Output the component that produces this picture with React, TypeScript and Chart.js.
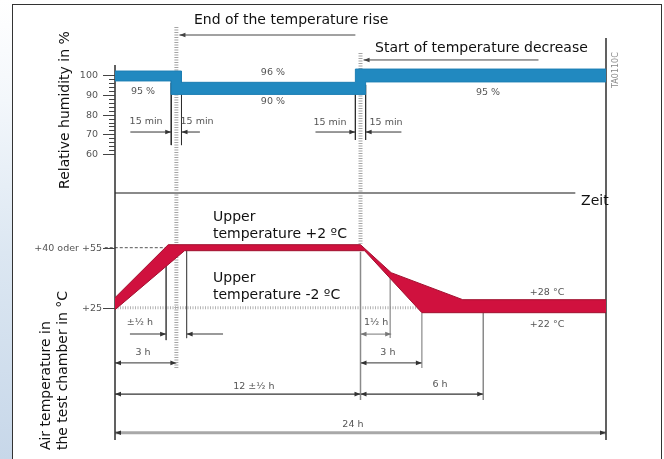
import React, { useEffect, useRef } from 'react';
import { Chart, registerables } from 'chart.js';

Chart.register(...registerables);

// ---------------- data ----------------
// time axis (hours)
const timeMin = 0;
const timeMax = 24;

// relative humidity band (%), stepped edges
const humUpperX = [0, 3.25, 3.25, 11.75, 11.75, 24];
const humUpperY = [102, 102, 96.3, 96.3, 103, 103];
const humLowerX = [0, 2.75, 2.75, 12.25, 12.25, 24];
const humLowerY = [97, 97, 90.2, 90.2, 96.5, 96.5];
const humTicks = [60, 70, 80, 90, 100];
const humMinorTicks = [62, 64, 66, 68, 72, 74, 76, 78, 82, 84, 86, 88, 92, 94, 96, 98];

// air temperature band (°C)
const tempUpperX = [0, 2.6, 12, 13.5, 17, 24];
const tempUpperY = [27.5, 40.75, 40.75, 33.75, 27, 27];
const tempLowerX = [0, 3.4, 12.2, 15, 24];
const tempLowerY = [24.5, 39.25, 39.25, 23.75, 23.75];
const tempTicks = [40, 25];
const tempTickLabels = ['+40 oder +55', '+25'];

// time spans (hours) shown as dimension arrows
const spanRise = [0, 3];
const spanPlateau = [0, 12];
const spanFall = [12, 15];
const spanSettle = [12, 18];
const spanTotal = [0, 24];
const spanKink = [12, 13.5];
const spanTolLeft = [0.73, 2.5];
const spanTolRight = [3.5, 5.28];
const pointerRiseEnd = [3.15, 11.75];
const pointerFallStart = [12.15, 20.7];
const min15A = [0.75, 2.75];
const min15B = [3.25, 4.15];
const min15C = [9.8, 11.75];
const min15D = [12.25, 14.0];

// labels
const spanLabels = ['±½ h', '3 h', '3 h', '12 ±½ h', '6 h', '24 h', '1½ h'];
const humValueLabels = ['95 %', '96 %', '90 %', '95 %'];
const tempValueLabels = ['+28 °C', '+22 °C'];
const min15Label = '15 min';

// ---------------- layout (positions in axis units) ----------------
const Y_H = { min: -93.94, max: 137.88 };
const Y_T = { min: -12.825, max: 101.925 };
const ROW = {
  riseEnd: 120.2, // yH
  fallStart: 107.6, // yH
  min15: 71.2, // yH
  zeit: 53.7, // yT
  tol: 18.4, // yT
  three: 11.2, // yT
  twelve: 3.4, // yT
  total: -6.25, // yT
  bottom: -8.1, // yT
};

const DARK = '#2e2e2e';
const GREY = '#8a8a8a';
const LADDER = '#a4a4a4';

function line(xs: number[], ys: number[], axis: string, color: string, width: number, extra: any = {}) {
  return {
    type: 'line',
    data: xs.map((x, i) => ({ x, y: ys[i] })),
    yAxisID: axis,
    borderColor: color,
    backgroundColor: color,
    borderWidth: width,
    pointRadius: 0,
    tension: 0,
    fill: false,
    clip: false,
    ...extra,
  };
}
function hline(span: number[], y: number, axis: string, color: string, width: number, extra: any = {}) {
  return line(span, [y, y], axis, color, width, extra);
}
function vline(x: number, ys: number[], axis: string, color: string, width: number, extra: any = {}) {
  return line([x, x], ys, axis, color, width, extra);
}

const datasets: any[] = [
  // humidity band
  line(humUpperX, humUpperY, 'yH', '#1d7fb4', 1),
  line(humLowerX, humLowerY, 'yH', '#1d7fb4', 1, { fill: '-1', backgroundColor: '#2189c0' }),
  // temperature band
  line(tempUpperX, tempUpperY, 'yT', '#a1102f', 1),
  line(tempLowerX, tempLowerY, 'yT', '#a1102f', 1, { fill: '-1', backgroundColor: '#d0113e' }),

  // axes / frame lines
  vline(timeMin, [85.7, ROW.bottom], 'yT', DARK, 1.5),
  vline(timeMax, [92.4, ROW.bottom], 'yT', DARK, 1.5),
  hline([0, 22.5], ROW.zeit, 'yT', GREY, 2),

  // event lines
  vline(3, [95.2, 9.9], 'yT', LADDER, 4, { borderDash: [1, 1.5] }),
  vline(12, [88.7, 41], 'yT', LADDER, 4, { borderDash: [1, 1.5] }),
  vline(12, [39, 1.9], 'yT', GREY, 1.5),
  vline(2.75, [96, 64.6], 'yH', DARK, 1),
  vline(3.25, [101, 64.6], 'yH', DARK, 1),
  vline(11.75, [95, 67.2], 'yH', DARK, 1),
  vline(12.25, [95, 67.2], 'yH', DARK, 1),
  vline(2.5, [36, 16.9], 'yT', '#555', 1),
  vline(3.5, [39.25, 17.4], 'yT', '#555', 1),
  vline(13.45, [33.75, 17.4], 'yT', GREY, 1.2),
  vline(15, [23.75, 9.9], 'yT', GREY, 1.2),
  vline(18, [23.75, 1.9], 'yT', GREY, 1.5),

  // level lines
  hline([-0.5, 2.55], 40, 'yT', '#555', 1, { borderDash: [3, 2] }),
  hline([0, 15], 25, 'yT', '#b4b4b4', 3, { borderDash: [1, 1.5] }),

  // pointers
  hline(pointerRiseEnd, ROW.riseEnd, 'yH', '#444', 1, { heads: [[0, -1]] }),
  hline(pointerFallStart, ROW.fallStart, 'yH', '#444', 1, { heads: [[0, -1]] }),
  hline(min15A, ROW.min15, 'yH', '#333', 1, { heads: [[1, 1]] }),
  hline(min15B, ROW.min15, 'yH', '#333', 1, { heads: [[0, -1]] }),
  hline(min15C, ROW.min15, 'yH', '#333', 1, { heads: [[1, 1]] }),
  hline(min15D, ROW.min15, 'yH', '#333', 1, { heads: [[0, -1]] }),

  // dimension arrows
  hline(spanTolLeft, ROW.tol, 'yT', '#9a9a9a', 2, { heads: [[1, 1]], headColor: '#333' }),
  hline(spanTolRight, ROW.tol, 'yT', '#9a9a9a', 2, { heads: [[0, -1]], headColor: '#333' }),
  hline(spanKink, ROW.tol, 'yT', '#777', 1, { heads: [[0, -1], [1, 1]] }),
  hline(spanRise, ROW.three, 'yT', '#333', 1, { heads: [[0, -1], [1, 1]] }),
  hline(spanFall, ROW.three, 'yT', '#333', 1, { heads: [[0, -1], [1, 1]] }),
  hline(spanPlateau, ROW.twelve, 'yT', '#333', 1.2, { heads: [[0, -1], [1, 1]] }),
  hline(spanSettle, ROW.twelve, 'yT', '#333', 1.2, { heads: [[0, -1], [1, 1]] }),
  hline(spanTotal, ROW.total, 'yT', '#a8a8a8', 3, { heads: [[0, -1], [1, 1]], headColor: '#333' }),
];

const FONT_BIG = '14px "DejaVu Sans"';
const FONT_SMALL = '9.5px "DejaVu Sans"';

// texts: [text, x(h), y, axis]
const bigTexts: any[] = [
  ['End of the temperature rise', 3.86, 125.8, 'yH'],
  ['Start of temperature decrease', 12.71, 111.5, 'yH'],
  ['Zeit', 22.78, 50.7, 'yT'],
  ['Upper', 4.79, 46.8, 'yT'],
  ['temperature +2 ºC', 4.79, 42.55, 'yT'],
  ['Upper', 4.79, 31.4, 'yT'],
  ['temperature -2 ºC', 4.79, 27.1, 'yT'],
];
const smallTexts: any[] = [
  [humValueLabels[0], 1.37, 91.4, 'yH'],
  [humValueLabels[1], 7.72, 101.5, 'yH'],
  [humValueLabels[2], 7.72, 86.4, 'yH'],
  [humValueLabels[3], 18.23, 90.9, 'yH'],
  [min15Label, 1.52, 76.3, 'yH'],
  [min15Label, 4.01, 76.3, 'yH'],
  [min15Label, 10.51, 75.8, 'yH'],
  [min15Label, 13.25, 75.8, 'yH'],
  [spanLabels[0], 1.22, 21.2, 'yT'],
  [spanLabels[1], 1.37, 13.7, 'yT'],
  [spanLabels[2], 13.34, 13.9, 'yT'],
  [spanLabels[3], 6.79, 5.4, 'yT'],
  [spanLabels[4], 15.89, 5.7, 'yT'],
  [spanLabels[5], 11.63, -4.1, 'yT'],
  [spanLabels[6], 12.76, 21.4, 'yT'],
  [tempValueLabels[0], 21.12, 28.9, 'yT'],
  [tempValueLabels[1], 21.12, 20.9, 'yT'],
];

const diagramPlugin = {
  id: 'diagram',
  afterDatasetsDraw(chart: any) {
    const { ctx, scales } = chart;
    const px = (h: number) => scales.x.getPixelForValue(h);
    const py = (axis: string, v: number) => scales[axis].getPixelForValue(v);
    ctx.save();

    // arrowheads
    chart.data.datasets.forEach((ds: any, i: number) => {
      if (!ds.heads) return;
      const meta = chart.getDatasetMeta(i);
      ds.heads.forEach(([idx, dir]: [number, number]) => {
        const p = meta.data[idx];
        ctx.beginPath();
        ctx.moveTo(p.x, p.y);
        ctx.lineTo(p.x - dir * 6, p.y - 2.3);
        ctx.lineTo(p.x - dir * 6, p.y + 2.3);
        ctx.closePath();
        ctx.fillStyle = ds.headColor || ds.borderColor;
        ctx.fill();
      });
    });

    const x0 = px(timeMin);
    // humidity ticks
    ctx.strokeStyle = '#444';
    ctx.lineWidth = 1;
    humMinorTicks.forEach((v) => {
      const y = Math.round(py('yH', v)) + 0.5;
      ctx.beginPath();
      ctx.moveTo(x0 - 6, y);
      ctx.lineTo(x0, y);
      ctx.stroke();
    });
    ctx.font = FONT_SMALL;
    ctx.fillStyle = '#555';
    ctx.textAlign = 'right';
    ctx.textBaseline = 'middle';
    humTicks.forEach((v) => {
      const y = Math.round(py('yH', v)) + 0.5;
      ctx.beginPath();
      ctx.moveTo(x0 - 12, y);
      ctx.lineTo(x0, y);
      ctx.stroke();
      ctx.fillText(String(v), x0 - 17, y);
    });
    // temperature ticks
    tempTicks.forEach((v, i) => {
      const y = Math.round(py('yT', v)) + 0.5;
      ctx.beginPath();
      ctx.moveTo(x0 - 12, y);
      ctx.lineTo(x0, y);
      ctx.stroke();
      ctx.fillText(tempTickLabels[i], x0 - 13, y);
    });

    // small texts
    ctx.textAlign = 'center';
    smallTexts.forEach(([t, x, y, a]) => ctx.fillText(t, px(x), py(a, y)));

    // big texts
    ctx.font = FONT_BIG;
    ctx.fillStyle = '#111';
    ctx.textAlign = 'left';
    ctx.textBaseline = 'alphabetic';
    bigTexts.forEach(([t, x, y, a]) => ctx.fillText(t, px(x), py(a, y)));

    // rotated axis titles
    const rot = (t: string, x: number, y: number, a: string, align: any) => {
      ctx.save();
      ctx.translate(px(x), py(a, y));
      ctx.rotate(-Math.PI / 2);
      ctx.textAlign = align;
      ctx.fillText(t, 0, 0);
      ctx.restore();
    };
    rot('Relative humidity in %', -2.27, 82.3, 'yH', 'center');
    rot('Air temperature in', -3.18, -10.6, 'yT', 'left');
    rot('the test chamber in °C', -2.35, -10.6, 'yT', 'left');

    ctx.font = '8px "DejaVu Sans"';
    ctx.fillStyle = '#8a8a8a';
    ctx.textBaseline = 'middle';
    rot('TA0110C', 24.49, 102.5, 'yH', 'center');

    ctx.restore();
  },
};

export default function App() {
  const ref = useRef<HTMLCanvasElement>(null);
  useEffect(() => {
    const chart = new Chart(ref.current as HTMLCanvasElement, {
      type: 'line',
      data: { datasets },
      options: {
        animation: false,
        responsive: false,
        events: [],
        layout: { padding: { left: 115, right: 58, top: 0, bottom: 0 } },
        plugins: { legend: { display: false }, tooltip: { enabled: false } },
        scales: {
          x: { type: 'linear', min: timeMin, max: timeMax, display: false },
          yH: { type: 'linear', position: 'left', min: Y_H.min, max: Y_H.max, display: false },
          yT: { type: 'linear', position: 'left', min: Y_T.min, max: Y_T.max, display: false },
        },
      },
      plugins: [diagramPlugin],
    } as any);
    return () => chart.destroy();
  }, []);
  return (
    <div style={{ position: 'fixed', left: 0, top: 0, width: 664, height: 459, background: '#fff', overflow: 'hidden' }}>
      <div
        style={{
          position: 'absolute', left: 0, top: 0, width: 12, height: 459,
          background: 'linear-gradient(180deg, #ffffff 0%, #f3f7fb 22%, #dce7f2 55%, #c7d7e9 100%)',
        }}
      />
      <div
        style={{
          position: 'absolute', left: 12, top: 4, width: 648, height: 470,
          borderLeft: '1px solid #333', borderTop: '1px solid #333', borderRight: '1px solid #333',
        }}
      />
      <canvas ref={ref} width={664} height={459} style={{ position: 'absolute', left: 0, top: 0, width: 664, height: 459 }} />
    </div>
  );
}
